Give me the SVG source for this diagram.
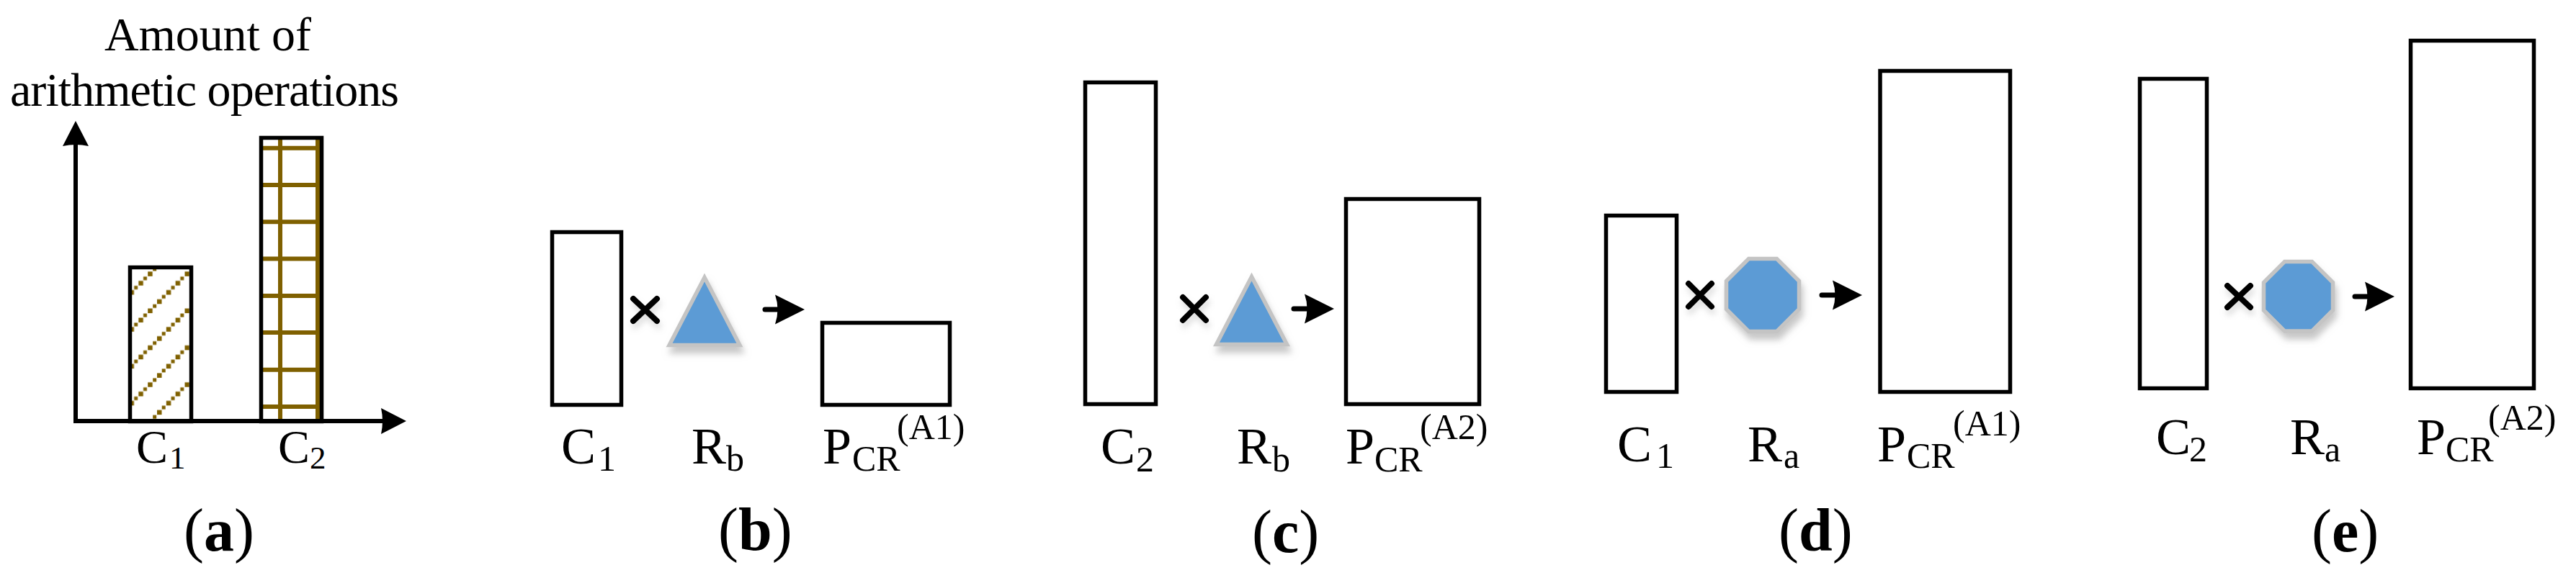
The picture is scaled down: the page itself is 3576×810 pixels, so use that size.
<svg xmlns="http://www.w3.org/2000/svg" width="3576" height="810" viewBox="0 0 3576 810">
<style>
text{font-family:"Liberation Serif","Times New Roman",serif;fill:#000}
.box{fill:#fff;stroke:#000;stroke-width:5.500}
.shape{fill:#5B9BD5;stroke:#C4C4C4;stroke-width:5.500;filter:url(#sh)}
.times{fill:none;stroke:#000;stroke-width:8;stroke-linecap:round;filter:url(#shx)}
.arrow{fill:none;stroke:#000;stroke-width:7;stroke-linecap:round;marker-end:url(#head)}
.axis{fill:none;stroke:#000;stroke-width:6;marker-end:url(#axhead)}
.grid{fill:none;stroke:#7F6000;stroke-width:6}
.lbl{font-size:72px}
.sub{font-size:50px}
.sup{font-size:50px}
.cap{font-size:84px}
.cap tspan{font-weight:bold}
.a{font-size:66px}
.asub{font-size:45px}
.title{font-size:66px}
</style>
<defs>
<filter id="sh" x="-30%" y="-30%" width="160%" height="170%"><feDropShadow dx="3" dy="9" stdDeviation="5" flood-color="#9a9a9a" flood-opacity=".55"/></filter>
<filter id="shx" x="-40%" y="-40%" width="180%" height="200%"><feDropShadow dx="2" dy="7" stdDeviation="4" flood-color="#aaa" flood-opacity=".4"/></filter>
<marker id="head" markerUnits="userSpaceOnUse" markerWidth="44" markerHeight="44" viewBox="0 0 44 44" refX="6" refY="22" orient="auto"><path d="M42 22L1 1.500Q8 22 1 42.500Z" fill="#000"/></marker>
<marker id="axhead" markerUnits="userSpaceOnUse" markerWidth="40" markerHeight="40" viewBox="0 0 40 40" refX="4" refY="20" orient="auto"><path d="M36 20L1 2Q5 20 1 38Z" fill="#000"/></marker>
<pattern id="hatch" patternUnits="userSpaceOnUse" width="51.300" height="51.300" patternTransform="translate(0 24.700)">
<g fill="#7F6000"><rect x="0" y="44.800" width="6.500" height="6.500"/><rect x="7" y="39" width="5" height="5"/><rect x="12.800" y="32" width="6.500" height="6.500"/><rect x="19.500" y="26" width="5" height="5"/><rect x="25.600" y="19.200" width="6.500" height="6.500"/><rect x="32.300" y="13.300" width="5" height="5"/><rect x="38.400" y="6.400" width="6.500" height="6.500"/><rect x="45.100" y="0.500" width="5" height="5"/></g>
</pattern>
</defs>
<rect width="3576" height="810" fill="#fff"/>

<g id="panel-a-title"><text class="title" x="145" y="70" textLength="287">Amount of</text><text class="title" x="14" y="147" textLength="540">arithmetic operations</text></g>
<g id="bar-c1"><rect x="180.500" y="371.500" width="85" height="214" fill="url(#hatch)" stroke="none"/><rect x="180.500" y="371.500" width="85" height="214" fill="none" stroke="#000" stroke-width="5.500"/></g>
<g id="bar-c2"><path class="grid" d="M389 192V585M441 192V585M363 205.700H446M363 257H446M363 308.300H446M363 359.600H446M363 411H446M363 462H446M363 513.700H446M363 565H446"/><rect x="362.500" y="191.500" width="84" height="394" fill="none" stroke="#000" stroke-width="5.500"/></g>
<g id="label-a"><text class="a" x="189" y="643">C<tspan class="asub" x="235" y="651">1</tspan></text><text class="a" x="386" y="643">C<tspan class="asub" x="430" y="651">2</tspan></text><text class="cap" x="255" y="765">(<tspan>a</tspan>)</text></g>

<g id="panel-b">
<g id="b-c1"><rect class="box" x="766.500" y="322.500" width="96" height="240"/><text class="lbl" x="779" y="644">C<tspan class="sub" x="830" y="654">1</tspan></text></g>
<g id="b-times"><path class="times" d="M879 415L912 446M912 415L879 446"/></g>
<g id="b-rb"><polygon class="shape" points="978,385.400 929.100,479.500 1026.900,479.500"/><text class="lbl" x="960" y="644">R<tspan class="sub" x="1008" y="654">b</tspan></text></g>
<g id="b-p"><rect class="box" x="1141.500" y="448.500" width="177" height="114"/><text class="lbl" x="1142" y="644">P<tspan class="sub" x="1183" y="654">CR</tspan><tspan class="sup" x="1245" y="610">(A1)</tspan></text></g>
<text class="cap" x="997" y="764">(<tspan>b</tspan>)</text>
</g>

<g id="panel-c">
<g id="c-c2"><rect class="box" x="1506.500" y="114.500" width="98" height="447"/><text class="lbl" x="1528" y="644">C<tspan class="sub" x="1577" y="655">2</tspan></text></g>
<g id="c-times"><path class="times" d="M1642 413L1674 445M1674 413L1642 445"/></g>
<g id="c-rb"><polygon class="shape" points="1737.500,384.500 1688.500,478.500 1786.500,478.500"/><text class="lbl" x="1717" y="644">R<tspan class="sub" x="1766" y="655">b</tspan></text></g>
<g id="c-p"><rect class="box" x="1868.500" y="276.500" width="185" height="285"/><text class="lbl" x="1868" y="644">P<tspan class="sub" x="1908" y="655">CR</tspan><tspan class="sup" x="1971" y="610">(A2)</tspan></text></g>
<text class="cap" x="1738" y="767">(<tspan>c</tspan>)</text>
</g>

<g id="panel-d">
<g id="d-c1"><rect class="box" x="2229.500" y="299.500" width="98" height="245"/><text class="lbl" x="2245" y="641">C<tspan class="sub" x="2299" y="650">1</tspan></text></g>
<g id="d-times"><path class="times" d="M2344 394L2376 426M2376 394L2344 426"/></g>
<g id="d-ra"><polygon class="shape" points="2427.500,359.500 2466.500,359.500 2497.500,390.500 2497.500,429.500 2466.500,460.500 2427.500,460.500 2396.500,429.500 2396.500,390.500"/><text class="lbl" x="2426" y="641">R<tspan class="sub" x="2476" y="650">a</tspan></text></g>
<g id="d-p"><rect class="box" x="2610" y="98.500" width="180.500" height="446"/><text class="lbl" x="2606" y="641">P<tspan class="sub" x="2647" y="650">CR</tspan><tspan class="sup" x="2711" y="605">(A1)</tspan></text></g>
<text class="cap" x="2469" y="765">(<tspan>d</tspan>)</text>
</g>

<g id="panel-e">
<g id="e-c2"><rect class="box" x="2970.500" y="109.500" width="93" height="430"/><text class="lbl" x="2993" y="631">C<tspan class="sub" x="3039" y="641">2</tspan></text></g>
<g id="e-times"><path class="times" d="M3092 397L3124 427M3124 397L3092 427"/></g>
<g id="e-ra"><polygon class="shape" points="3171.500,363.500 3209.500,363.500 3238.500,392.500 3238.500,431 3209.500,460 3171.500,460 3142.500,431 3142.500,392.500"/><text class="lbl" x="3179" y="631">R<tspan class="sub" x="3227" y="641">a</tspan></text></g>
<g id="e-p"><rect class="box" x="3346.500" y="56.500" width="171" height="483"/><text class="lbl" x="3355" y="631">P<tspan class="sub" x="3395" y="641">CR</tspan><tspan class="sup" x="3454" y="597">(A2)</tspan></text></g>
<text class="cap" x="3209" y="766">(<tspan>e</tspan>)</text>
</g>

<g id="connectors">
<path class="axis" d="M105 588V200"/>
<path class="axis" d="M102 585H532"/>
<path class="arrow" d="M1062 430H1081"/>
<path class="arrow" d="M1796 429H1816"/>
<path class="arrow" d="M2529 410H2549"/>
<path class="arrow" d="M3269 412H3288"/>
</g>
</svg>
